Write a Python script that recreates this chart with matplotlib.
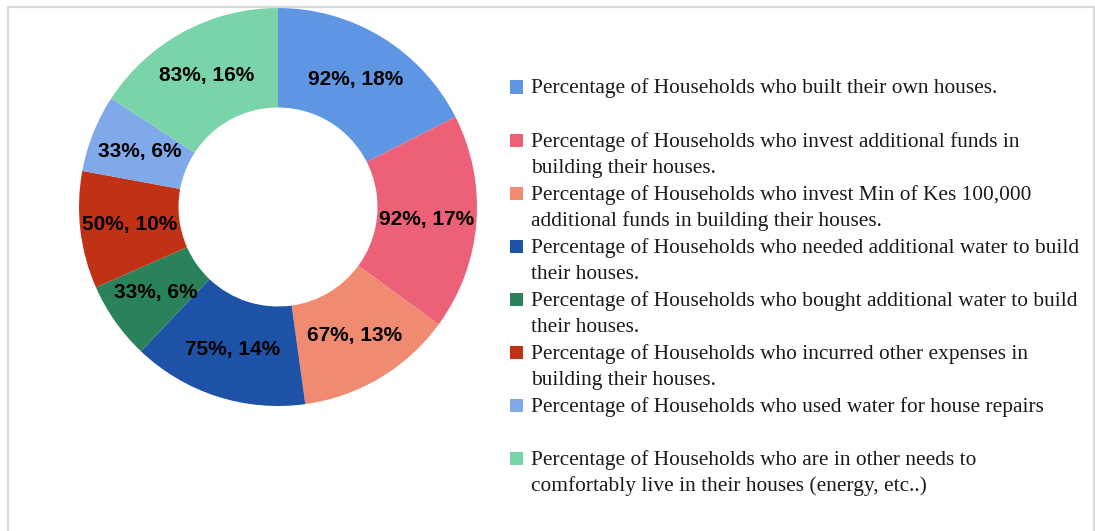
import matplotlib.pyplot as plt
import numpy as np
from matplotlib.patches import Rectangle

# data
pct_values = [92, 92, 67, 75, 33, 50, 33, 83]
share_values = [18, 17, 13, 14, 6, 10, 6, 16]
legend_labels = [
    "Percentage of Households who built their own houses.",
    "Percentage of Households who invest additional funds in\nbuilding their houses.",
    "Percentage of Households who invest Min of Kes 100,000\nadditional funds in building their houses.",
    "Percentage of Households who needed additional water to build\ntheir houses.",
    "Percentage of Households who bought additional water to build\ntheir houses.",
    "Percentage of Households who incurred other expenses in\nbuilding their houses.",
    "Percentage of Households who used water for house repairs",
    "Percentage of Households who are in other needs to\ncomfortably live in their houses (energy, etc..)",
]
colors = ["#5E96E4", "#EC6177", "#F08A71", "#1D52A6", "#29825A",
          "#C13116", "#7FA9E8", "#79D4A9"]

W, H = 1095, 531
fig = plt.figure(figsize=(W / 100, H / 100), dpi=100)

# light frame around the chart area
fig.add_artist(Rectangle((8 / W, -0.05), (1094 - 8) / W, (H - 7) / H + 0.05,
                         transform=fig.transFigure, fill=False,
                         edgecolor="#d9d9d9", lw=1.6))

cx, cy, r = 278, 531 - 207, 199
ax = fig.add_axes([(cx - r) / W, (cy - r) / H, 2 * r / W, 2 * r / H])
wedges, _ = ax.pie(pct_values, colors=colors, startangle=90, counterclock=False,
                   radius=1, wedgeprops=dict(width=0.5, linewidth=0))
ax.set_xlim(-1, 1)
ax.set_ylim(-1, 1)
ax.set_aspect("equal")
ax.axis("off")

for w, p, s in zip(wedges, pct_values, share_values):
    ang = np.deg2rad((w.theta1 + w.theta2) / 2)
    ax.text(0.75 * np.cos(ang), 0.75 * np.sin(ang), f"{p}%, {s}%",
            ha="center", va="center", fontsize=15, fontweight="bold",
            family="Liberation Sans", color="black")

# legend drawn by hand so the swatch sits on the first line
step = 53.1
y0 = 87
line_gap = 26
for i, (lab, col) in enumerate(zip(legend_labels, colors)):
    yc = y0 + i * step
    fig.add_artist(Rectangle((510 / W, (H - yc - 6.5) / H), 13 / W, 13 / H,
                             transform=fig.transFigure, facecolor=col, lw=0))
    for j, line in enumerate(lab.split("\n")):
        fig.text(531 / W, (H - yc - 6.5 - j * line_gap) / H, line,
                 ha="left", va="baseline", fontsize=15.4,
                 family="Liberation Serif", color="#1a1a1a")

fig.savefig("out.png", dpi=100)
